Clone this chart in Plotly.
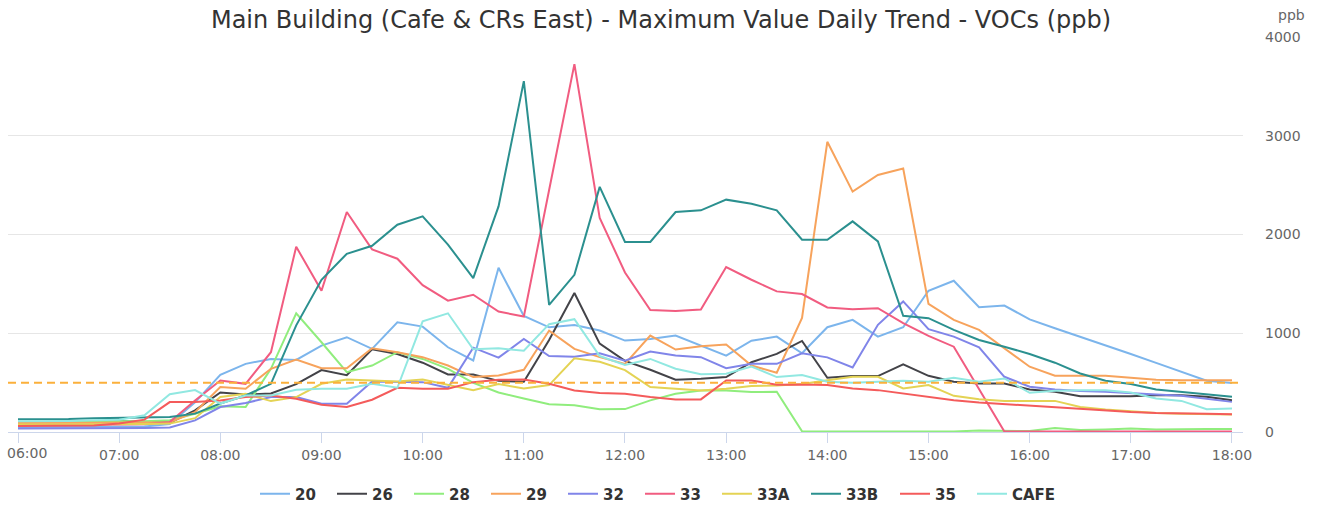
import pandas as pd
import plotly.graph_objects as go

# ---- data -------------------------------------------------------------
times = pd.date_range("2024-01-01 06:00", "2024-01-01 18:00", freq="15min")
hour_ticks = pd.date_range("2024-01-01 06:00", "2024-01-01 18:00", freq="1h")
hour_labels = ["06:00", "07:00", "08:00", "09:00", "10:00", "11:00", "12:00",
               "13:00", "14:00", "15:00", "16:00", "17:00", "18:00"]

series_names = ["20", "26", "28", "29", "32", "33", "33A", "33B", "35", "CAFE"]
series_colors = ["#7cb5ec", "#434348", "#90ed7d", "#f7a35c", "#8085e9",
                 "#f15c80", "#e4d354", "#2b908f", "#f45b5b", "#91e8e1"]

s_20 = [50, 50, 52, 52, 55, 55, 80, 300, 580, 690, 740, 730, 875, 960, 842, 1111,
        1067, 858, 724, 1663, 1176, 1060, 1084, 1027, 926, 943, 976, 875, 774, 925,
        966, 797, 1061, 1136, 966, 1061, 1430, 1532, 1264, 1281, 1140, 1050, 965, 875,
        790, 700, 610, 520, 495]
s_26 = [100, 100, 105, 105, 110, 105, 95, 220, 400, 380, 390, 485, 627, 576, 837, 790,
        702, 583, 583, 518, 508, 932, 1407, 895, 720, 630, 529, 539, 556, 707,
        791, 922, 549, 566, 566, 685, 569, 508, 492, 492, 431, 407, 363, 363,
        363, 373, 373, 356, 322]
s_28 = [100, 100, 105, 110, 110, 110, 120, 185, 260, 253, 640, 1202, 909, 606, 673, 808,
        740, 640, 498, 400, 339, 281, 271, 230, 232, 320, 387, 421, 421, 404,
        407, 7, 5, 5, 5, 8, 5, 5, 15, 15, 10, 40, 20, 25, 35, 25, 30, 30, 30]
s_29 = [90, 90, 92, 95, 95, 95, 100, 200, 455, 438, 640, 734, 646, 646, 848, 808,
        758, 673, 556, 572, 630, 1027, 842, 758, 690, 976, 835, 869, 886, 673,
        600, 1156, 2939, 2434, 2603, 2668, 1298, 1136, 1034, 847, 661, 569, 569, 569,
        549, 530, 525, 525, 525]
s_32 = [35, 35, 38, 40, 40, 40, 45, 118, 253, 293, 354, 354, 286, 286, 512, 512,
        505, 448, 854, 753, 942, 769, 763, 797, 722, 815, 774, 758, 646, 690,
        690, 797, 756, 654, 1085, 1322, 1041, 966, 858, 559, 458, 431, 414, 407,
        390, 380, 366, 339, 305]
s_33 = [70, 70, 72, 75, 75, 78, 100, 320, 522, 488, 808, 1876, 1430, 2228, 1849, 1755,
        1487, 1330, 1390, 1220, 1169, 2450, 3725, 2168, 1615, 1235, 1225, 1240, 1671, 1542,
        1424, 1397, 1261, 1244, 1254, 1102, 973, 864, 430, 5, 5, 5, 5, 5,
        5, 5, 5, 5, 5]
s_33A = [75, 75, 78, 80, 80, 80, 85, 140, 354, 387, 313, 354, 488, 532, 522, 512,
         532, 478, 424, 485, 441, 475, 746, 712, 627, 455, 438, 421, 438, 465,
         471, 485, 525, 559, 559, 441, 475, 366, 332, 315, 315, 315, 254, 227,
         210, 193, 186, 182, 176]
s_33B = [130, 130, 132, 140, 145, 145, 153, 186, 288, 370, 488, 1080, 1541, 1805, 1886, 2099,
         2184, 1897, 1559, 2285, 3553, 1288, 1592, 2482, 1924, 1924, 2228, 2245, 2353, 2312,
         2245, 1947, 1947, 2133, 1930, 1176, 1153, 1034, 932, 864, 790, 702, 593, 519,
         485, 431, 407, 383, 356]
s_35 = [60, 60, 62, 65, 85, 125, 303, 303, 320, 354, 370, 337, 276, 253, 327, 448,
        438, 438, 505, 529, 532, 488, 421, 394, 387, 354, 330, 330, 522, 522,
        478, 481, 475, 441, 424, 390, 356, 322, 298, 281, 264, 247, 231, 214,
        203, 193, 193, 186, 180]
s_CAFE = [110, 110, 112, 118, 125, 170, 383, 424, 288, 370, 370, 428, 438, 438, 488, 448,
          1121, 1202, 837, 847, 824, 1092, 1142, 769, 680, 740, 640, 585, 590, 663,
          556, 576, 508, 498, 508, 519, 508, 549, 508, 542, 397, 417, 424, 424,
          400, 339, 315, 231, 237]

all_series = [s_20, s_26, s_28, s_29, s_32, s_33, s_33A, s_33B, s_35, s_CAFE]
legend_widths = [32, 32, 32, 32, 32, 32, 44, 44, 32, 44]

threshold = 500
y_ticks = [0, 1000, 2000, 3000, 4000]

title_text = "Main Building (Cafe & CRs East) - Maximum Value Daily Trend - VOCs (ppb)"
FONT = "DejaVu Sans"

# ---- figure -----------------------------------------------------------
fig = go.Figure()
for name, color, vals, lw in zip(series_names, series_colors, all_series, legend_widths):
    fig.add_trace(go.Scatter(
        x=times, y=vals, name=name, mode="lines",
        line=dict(color=color, width=2),
        legendwidth=lw,
    ))

fig.add_shape(type="line", xref="paper", x0=0, x1=1, yref="y",
              y0=threshold, y1=threshold,
              line=dict(color="#FBB03B", width=2, dash="8px,5px"), layer="above")

fig.update_layout(
    width=1322, height=509,
    margin=dict(l=8, r=79, t=37, b=77, autoexpand=False),
    paper_bgcolor="white", plot_bgcolor="white",
    font=dict(family=FONT, color="#666666"),
    title=dict(text=title_text, x=0.5, xref="container", xanchor="center",
               y=1 - 20 / 509, yref="container", yanchor="middle",
               font=dict(family=FONT, size=24, color="#333333")),
    showlegend=True,
    legend=dict(orientation="h", x=0.2, xanchor="left",
                yref="container", y=1 - 494 / 509, yanchor="middle",
                font=dict(family=FONT, size=15, color="#333333", weight="bold"),
                bgcolor="rgba(0,0,0,0)"),
    hovermode=False,
)

tick_text = [""] + hour_labels[1:]
fig.update_xaxes(
    type="date",
    range=["2024-01-01 05:54:04", "2024-01-01 18:06:32"],
    tickvals=hour_ticks, ticktext=tick_text,
    showgrid=False, zeroline=False,
    showline=True, linecolor="#ccd6eb", linewidth=1,
    ticks="outside", ticklen=10, tickcolor="#ccd6eb", tickwidth=1,
    tickfont=dict(family=FONT, size=14, color="#666666"),
)
fig.update_yaxes(
    side="right", range=[0, 4000], tickvals=y_ticks,
    showgrid=True, gridcolor="#e6e6e6", gridwidth=1,
    zeroline=False, showline=False, ticks="",
    ticklabelstandoff=21,
    tickfont=dict(family=FONT, size=14, color="#666666"),
)

# first hour label (kept inside the chart like the original)
fig.add_annotation(text=hour_labels[0], xref="x", yref="paper", x=hour_ticks[0], y=0,
                   xanchor="center", yanchor="top", xshift=9, yshift=-11,
                   showarrow=False,
                   font=dict(family=FONT, size=14, color="#666666"))

fig.add_annotation(text="ppb", xref="paper", yref="paper", x=1.0, y=1.0,
                   xanchor="left", yanchor="middle", xshift=33, yshift=22,
                   showarrow=False,
                   font=dict(family=FONT, size=14, color="#666666"))

fig.write_html("out.html",
               config={"displayModeBar": False, "staticPlot": True},
               post_script="document.body.style.margin='0px';document.body.style.overflow='hidden';")
